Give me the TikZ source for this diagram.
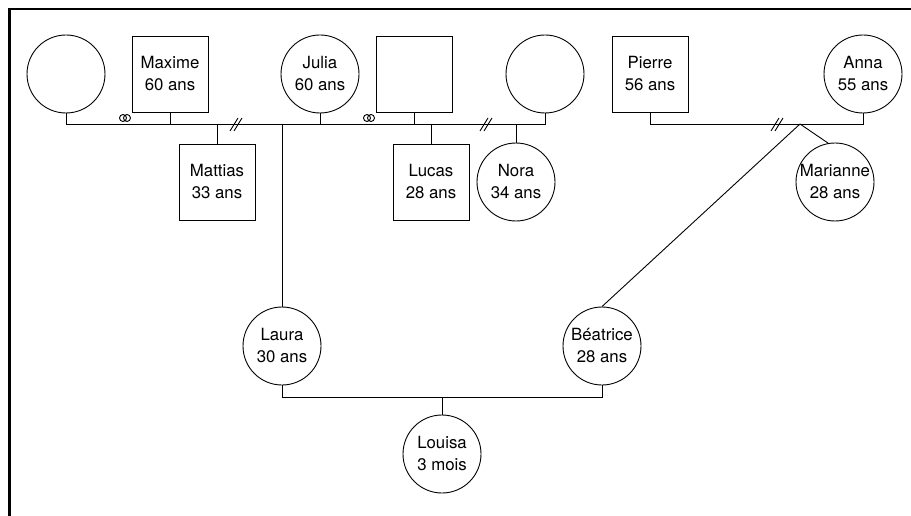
\documentclass[tikz,border=0pt]{standalone}
\usepackage{fontspec}
\setmainfont{TeX Gyre Heros}
\usetikzlibrary{calc}

% marriage sign and divorce sign on a family line
\newcommand{\wedsign}[1]{\draw[line width=.9pt] ($(#1)+(-2,0)$) circle (3.5pt) ($(#1)+(2,0)$) circle (3.5pt);}
\newcommand{\splitsign}[1]{\draw[line width=.9pt] ($(#1)+(-6,7)$) -- ++(8,-13) ($(#1)+(-2,7)$) -- ++(8,-13);}

\begin{document}
\begin{tikzpicture}[x=1pt, y=-1pt, line width=.9pt,
  female/.style={draw, circle, minimum size=78pt, inner sep=0pt, align=center, font=\fontsize{16.8}{22}\selectfont},
  male/.style={draw, rectangle, minimum width=76pt, minimum height=76pt, inner sep=0pt, align=center, font=\fontsize{16.8}{22}\selectfont}]
  \useasboundingbox (0,0) rectangle (911,516);

  % Frame
  \draw[line width=2.6pt] (9.5,516) -- (9.5,9) -- (911,9);

  % First generation
  \node[female] (granny)   at (66,74)  {};
  \node[male]   (maxime)   at (170,74) {Maxime\\60 ans};
  \node[female] (julia)    at (320,74) {Julia\\60 ans};
  \node[male]   (grandpa)  at (414,74) {};
  \node[female] (exwife)   at (545,74) {};
  \node[male]   (pierre)   at (650,74) {Pierre\\56 ans};
  \node[female] (anna)     at (863,74) {Anna\\55 ans};

  % Second generation
  \node[male]   (mattias)  at (217,182) {Mattias\\33 ans};
  \node[male]   (lucas)    at (431,182) {Lucas\\28 ans};
  \node[female] (nora)     at (516,182) {Nora\\34 ans};
  \node[female] (marianne) at (835,182) {Marianne\\28 ans};
  \node[female] (laura)    at (282,346) {Laura\\30 ans};
  \node[female] (beatrice) at (602,346) {Béatrice\\28 ans};

  % Third generation
  \node[female] (louisa)   at (442,454) {Louisa\\3 mois};

  % Family lines
  \coordinate (bar) at (0,124);
  \coordinate (low) at (0,397);
  \coordinate (pa) at (800,124);
  \draw (granny.south) -- (granny.south |- bar) -- (exwife.south |- bar) -- (exwife.south);
  \draw (maxime.south) -- (maxime.south |- bar);
  \draw (julia.south) -- (julia.south |- bar);
  \draw (grandpa.south) -- (grandpa.south |- bar);
  \draw (mattias.north |- bar) -- (mattias.north);
  \draw (laura.north |- bar) -- (laura.north);
  \draw (lucas.north |- bar) -- (lucas.north);
  \draw (nora.north |- bar) -- (nora.north);
  \draw (pierre.south) -- (pierre.south |- bar) -- (anna.south |- bar) -- (anna.south);
  \draw (pa) -- (marianne.100);
  \draw (pa) -- (beatrice.north);
  \draw (laura.south) -- (laura.south |- low) -- (beatrice.south |- low) -- (beatrice.south);
  \draw (louisa.north |- low) -- (louisa.north);

  % Signs on the lines
  \coordinate (w1) at (125,118);
  \coordinate (w2) at (369,118);
  \coordinate (d1) at (236,124);
  \coordinate (d2) at (486,124);
  \coordinate (d3) at (777,124);
  \wedsign{w1} \wedsign{w2}
  \splitsign{d1} \splitsign{d2} \splitsign{d3}
\end{tikzpicture}
\end{document}
